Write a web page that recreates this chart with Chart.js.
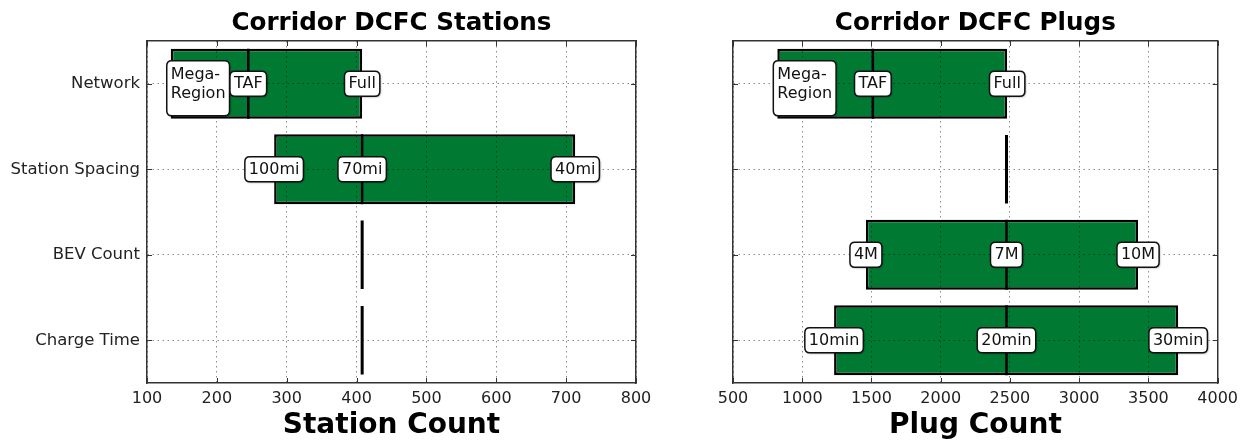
<!DOCTYPE html>
<html><head><meta charset="utf-8">
<script src="https://cdn.jsdelivr.net/npm/chart.js@4/dist/chart.umd.min.js"></script>
<style>
html,body{margin:0;padding:0;background:#fff;width:1244px;height:440px;overflow:hidden}
canvas{position:absolute;left:0;top:0}
</style></head><body>
<canvas id="c1" width="1244" height="440"></canvas>
<canvas id="c2" width="1244" height="440"></canvas>
<script>
// ---------- data ----------
const categories = ['Network', 'Station Spacing', 'BEV Count', 'Charge Time'];

const stationLow  = [134, 282, 408, 408];
const stationMid  = [245, 408, 408, 408];
const stationHigh = [408, 713, 408, 408];
const stationLabels = [['Mega-\nRegion', 'TAF', 'Full'], ['100mi', '70mi', '40mi'], null, null];
const stationTicks = [100, 200, 300, 400, 500, 600, 700, 800];

const plugLow  = [820, 2475, 1460, 1230];
const plugMid  = [1510, 2475, 2475, 2475];
const plugHigh = [2480, 2475, 3425, 3715];
const plugLabels = [['Mega-\nRegion', 'TAF', 'Full'], null, ['4M', '7M', '10M'], ['10min', '20min', '30min']];
const plugTicks = [500, 1000, 1500, 2000, 2500, 3000, 3500, 4000];

// ---------- style ----------
Chart.defaults.font.family = '"DejaVu Sans", sans-serif';
Chart.defaults.font.size = 16;
Chart.defaults.color = '#222';

const GREEN = '#007a33';
const BAR_FRAC = 0.82;
const GRID = {color: 'rgba(0,0,0,0.45)', lineWidth: 1, drawTicks: false, z: 1, offset: false};
const BORDER = {display: true, color: '#333', width: 1.5, dash: [1.5, 3.5], z: 2};

function roundRect(ctx, x, y, w, h, r) {
  ctx.beginPath();
  ctx.moveTo(x + r, y);
  ctx.lineTo(x + w - r, y);
  ctx.quadraticCurveTo(x + w, y, x + w, y + r);
  ctx.lineTo(x + w, y + h - r);
  ctx.quadraticCurveTo(x + w, y + h, x + w - r, y + h);
  ctx.lineTo(x + r, y + h);
  ctx.quadraticCurveTo(x, y + h, x, y + h - r);
  ctx.lineTo(x, y + r);
  ctx.quadraticCurveTo(x, y, x + r, y);
  ctx.closePath();
}

function drawBox(ctx, text, x, y, align) {
  const lines = text.split('\n');
  ctx.save();
  ctx.font = '16px "DejaVu Sans"';
  const w = Math.max(...lines.map(l => ctx.measureText(l).width));
  const padX = 4;
  const bw = w + 2 * padX;
  const multi = lines.length > 1;
  const bh = multi ? 55 : 25;
  const left = align === 'left' ? x - padX : x - bw / 2;
  const top = multi ? y - 23 : y - 12.5;
  ctx.shadowColor = 'rgba(0,0,0,0.35)';
  ctx.shadowBlur = 2;
  ctx.shadowOffsetX = 1;
  ctx.shadowOffsetY = 1;
  roundRect(ctx, left, top, bw, bh, 5);
  ctx.fillStyle = '#fff';
  ctx.fill();
  ctx.shadowColor = 'transparent';
  ctx.lineWidth = 1.5;
  ctx.strokeStyle = '#111';
  ctx.stroke();
  ctx.fillStyle = '#111';
  ctx.textBaseline = 'middle';
  ctx.textAlign = 'left';
  lines.forEach((l, k) => {
    const ty = multi ? top + 14 + k * 19.5 : y + 0.5;
    const tx = left + padX + (multi ? 0 : (w - ctx.measureText(l).width) / 2);
    ctx.fillText(l, tx, ty);
  });
  ctx.restore();
}

function makePlugin(low, mid, high, labels, ticks) {
  return {
    id: 'boxLabels',
    afterDraw(chart) {
      const ctx = chart.ctx, xs = chart.scales.x, ys = chart.scales.y, a = chart.chartArea;
      // inward tick marks
      ctx.save();
      ctx.strokeStyle = '#333';
      ctx.lineWidth = 1;
      ctx.beginPath();
      ticks.forEach(v => {
        const px = Math.round(xs.getPixelForValue(v)) + 0.5;
        ctx.moveTo(px, a.bottom); ctx.lineTo(px, a.bottom - 5);
        ctx.moveTo(px, a.top); ctx.lineTo(px, a.top + 5);
      });
      categories.forEach((c, i) => {
        const py = Math.round(ys.getPixelForValue(i)) + 0.5;
        ctx.moveTo(a.left, py); ctx.lineTo(a.left + 5, py);
        ctx.moveTo(a.right, py); ctx.lineTo(a.right - 5, py);
      });
      ctx.stroke();
      ctx.restore();
      // value labels
      labels.forEach((lbls, i) => {
        if (!lbls) return;
        const vals = [low[i], mid[i], high[i]];
        const py = ys.getPixelForValue(i);
        lbls.forEach((t, k) => {
          drawBox(ctx, t, xs.getPixelForValue(vals[k]), py, t.includes('\n') ? 'left' : 'center');
        });
      });
    }
  };
}

function makeChart(id, o) {
  const idx = categories.map((c, i) => i);
  const ranged = idx.filter(i => o.low[i] < o.high[i]);
  const half = BAR_FRAC / 2;
  const datasets = [];
  // vertical mid-value lines (drawn over the bars)
  idx.forEach(i => {
    const single = o.low[i] === o.high[i];
    datasets.push({
      type: 'line', indexAxis: 'y', order: 0,
      data: [{x: o.mid[i], y: i - (single ? 0.4 : half)}, {x: o.mid[i], y: i + (single ? 0.4 : half)}],
      borderColor: '#000', borderWidth: single ? 3 : 2.5, pointRadius: 0, borderCapStyle: 'butt', fill: false
    });
  });
  datasets.push({
    type: 'bar', indexAxis: 'y', grouped: false, order: 1,
    data: ranged.map(i => ({y: i, x: [o.low[i], o.high[i]]})),
    backgroundColor: GREEN, borderColor: '#000', borderWidth: 2.5,
    borderSkipped: false, barPercentage: BAR_FRAC, categoryPercentage: 1
  });
  const common = {type: 'linear', min: o.ticks[0], max: o.ticks[o.ticks.length - 1], offset: false};
  return new Chart(document.getElementById(id), {
    type: 'bar',
    data: {datasets},
    options: {
      indexAxis: 'y',
      responsive: false, animation: false,
      layout: {padding: 0, autoPadding: false},
      plugins: {legend: {display: false}, tooltip: {enabled: false}, title: {display: false}},
      scales: {
        x: Object.assign({}, common, {
          position: 'bottom',
          afterBuildTicks: s => { s.ticks = o.ticks.map(v => ({value: v})); },
          afterFit: s => { s.height = 57; },
          ticks: {autoSkip: false, maxRotation: 0, minRotation: 0, padding: 6, color: '#222', callback: v => String(v)},
          grid: GRID, border: BORDER,
          title: {display: true, text: o.xTitle, color: '#000', font: {size: 28, weight: 'bold', lineHeight: 1}, padding: {top: 0, bottom: 0}}
        }),
        xTop: Object.assign({}, common, {
          position: 'top',
          afterFit: s => { s.height = 41; },
          ticks: {display: false}, grid: {display: false}, border: BORDER,
          title: {display: true, text: o.title, color: '#000', font: {size: 24.6, weight: 'bold', lineHeight: 1}, padding: {top: 11.5, bottom: 0}}
        }),
        y: {
          type: 'linear', position: 'left', min: -0.5, max: 3.5, reverse: true, offset: false,
          afterBuildTicks: s => { s.ticks = idx.map(v => ({value: v})); },
          afterFit: s => { s.width = o.leftW; },
          ticks: {display: o.showY, autoSkip: false, padding: 7, color: '#222', font: {size: 16.5}, callback: v => categories[v] ?? ''},
          grid: GRID, border: BORDER
        },
        yRight: {
          type: 'linear', position: 'right', min: -0.5, max: 3.5, reverse: true, offset: false,
          afterFit: s => { s.width = o.rightW; },
          ticks: {display: false}, grid: {display: false}, border: BORDER
        }
      }
    },
    plugins: [makePlugin(o.low, o.mid, o.high, o.labels, o.ticks)]
  });
}

makeChart('c1', {
  low: stationLow, mid: stationMid, high: stationHigh, labels: stationLabels, ticks: stationTicks,
  title: 'Corridor DCFC Stations', xTitle: 'Station Count', leftW: 147, rightW: 1244 - 636, showY: true
});
makeChart('c2', {
  low: plugLow, mid: plugMid, high: plugHigh, labels: plugLabels, ticks: plugTicks,
  title: 'Corridor DCFC Plugs', xTitle: 'Plug Count', leftW: 733, rightW: 22, showY: false
});
</script>
</body></html>
